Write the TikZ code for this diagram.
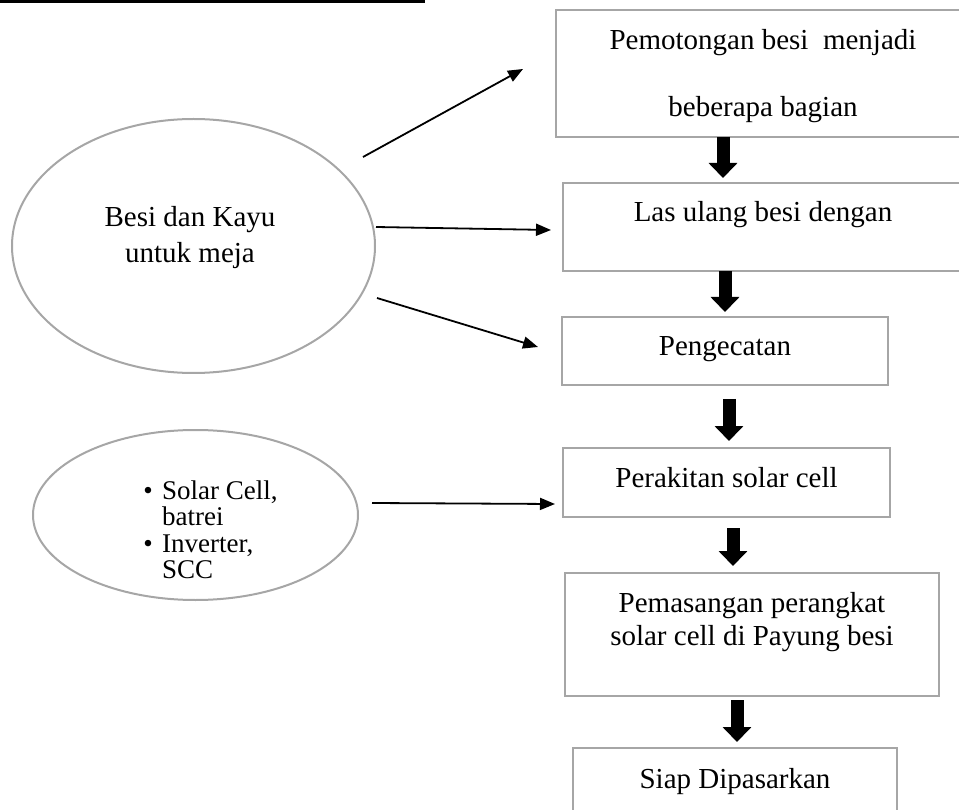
\documentclass[tikz,border=0pt]{standalone}
\usepackage{fontspec}
\setmainfont{Liberation Serif}
\usetikzlibrary{arrows.meta,shapes.geometric}
\definecolor{boxgray}{HTML}{A6A6A6}
\begin{document}
\begin{tikzpicture}[x=1pt,y=-1pt,
  box/.style={draw=boxgray, line width=2pt, inner sep=0pt, outer sep=0pt, rectangle},
  oval/.style={draw=boxgray, line width=2pt, ellipse, inner sep=0pt, outer sep=0pt},
  lbl/.style={anchor=base, inner sep=0pt, font=\fontsize{29}{33}\selectfont},
  lbls/.style={anchor=base west, inner sep=0pt, font=\fontsize{27}{30}\selectfont},
  fat/.style={line width=13pt, -{Triangle[width=28pt,length=15pt]}},
  thinarrow/.style={line width=1.8pt, -{Triangle[width=12pt,length=15pt]}}
]
\path[use as bounding box] (0,0) rectangle (959,810);
\clip (0,0) rectangle (959,810);
\fill[black] (0,0) rectangle (425,2.7);

% boxes
\node[box, minimum width=414pt, minimum height=127pt] (b1) at (763,73.5) {};
\node[box, minimum width=400pt, minimum height=88pt] (b2) at (763,227) {};
\node[box, minimum width=326pt, minimum height=68pt] (b3) at (725,351) {};
\node[box, minimum width=327pt, minimum height=69pt] (b4) at (726.5,482.5) {};
\node[box, minimum width=374pt, minimum height=123pt] (b5) at (752,634.5) {};
\node[box, minimum width=324pt, minimum height=100pt] (b6) at (735,798) {};

\node[lbl] (t1a) at (763,50) {Pemotongan besi\ \ menjadi};
\node[lbl] (t1b) at (763,117) {beberapa bagian};
\node[lbl] (t2) at (763,222) {Las ulang besi dengan};
\node[lbl] (t3) at (725,356) {Pengecatan};
\node[lbl] (t4) at (726.5,487) {Perakitan solar cell};
\node[lbl] (t5a) at (752,612) {Pemasangan perangkat};
\node[lbl] (t5b) at (752,645) {solar cell di Payung besi};
\node[lbl] (t6) at (735,788) {Siap Dipasarkan};

% ellipses
\node[oval, minimum width=363pt, minimum height=254pt] (e1) at (193.5,246) {};
\node[lbl] (te1a) at (190,227) {Besi dan Kayu};
\node[lbl] (te1b) at (190,263) {untuk meja};

\node[oval, minimum width=325pt, minimum height=170pt] (e2) at (195.5,515) {};
\node[lbls] (te2a) at (162,499) {Solar Cell,};
\node[lbls] (te2b) at (162,525) {batrei};
\node[lbls] (te2c) at (162,552) {Inverter,};
\node[lbls] (te2d) at (162,578) {SCC};
\node[lbls, anchor=base] (bul1) at (148,499) {\textbullet};
\node[lbls, anchor=base] (bul2) at (148,552) {\textbullet};

% thin arrows
\coordinate (s1) at (363,157); \coordinate (d1) at (523,69);
\coordinate (s2) at (376,227); \coordinate (d2) at (551,230);
\coordinate (s3) at (377,298); \coordinate (d3) at (538,347);
\coordinate (s4) at (372,503); \coordinate (d4) at (555,504);
\draw[thinarrow] (s1) -- (d1);
\draw[thinarrow] (s2) -- (d2);
\draw[thinarrow] (s3) -- (d3);
\draw[thinarrow] (s4) -- (d4);

% fat arrows
\coordinate (x1) at (723,0);
\coordinate (x2) at (725,0);
\coordinate (x3) at (729,0);
\coordinate (x4) at (733,0);
\coordinate (x5) at (737,0);
\draw[fat, shorten >=5pt] (b1.south -| x1) -- (b2.north -| x1);
\draw[fat, shorten >=5pt] (b2.south -| x2) -- (b3.north -| x2);
\draw[fat, shorten <=14pt, shorten >=7pt] (b3.south -| x3) -- (b4.north -| x3);
\draw[fat, shorten <=11pt, shorten >=7pt] (b4.south -| x4) -- (b5.north -| x4);
\draw[fat, shorten <=4pt, shorten >=6pt] (b5.south -| x5) -- (b6.north -| x5);
\end{tikzpicture}
\end{document}
